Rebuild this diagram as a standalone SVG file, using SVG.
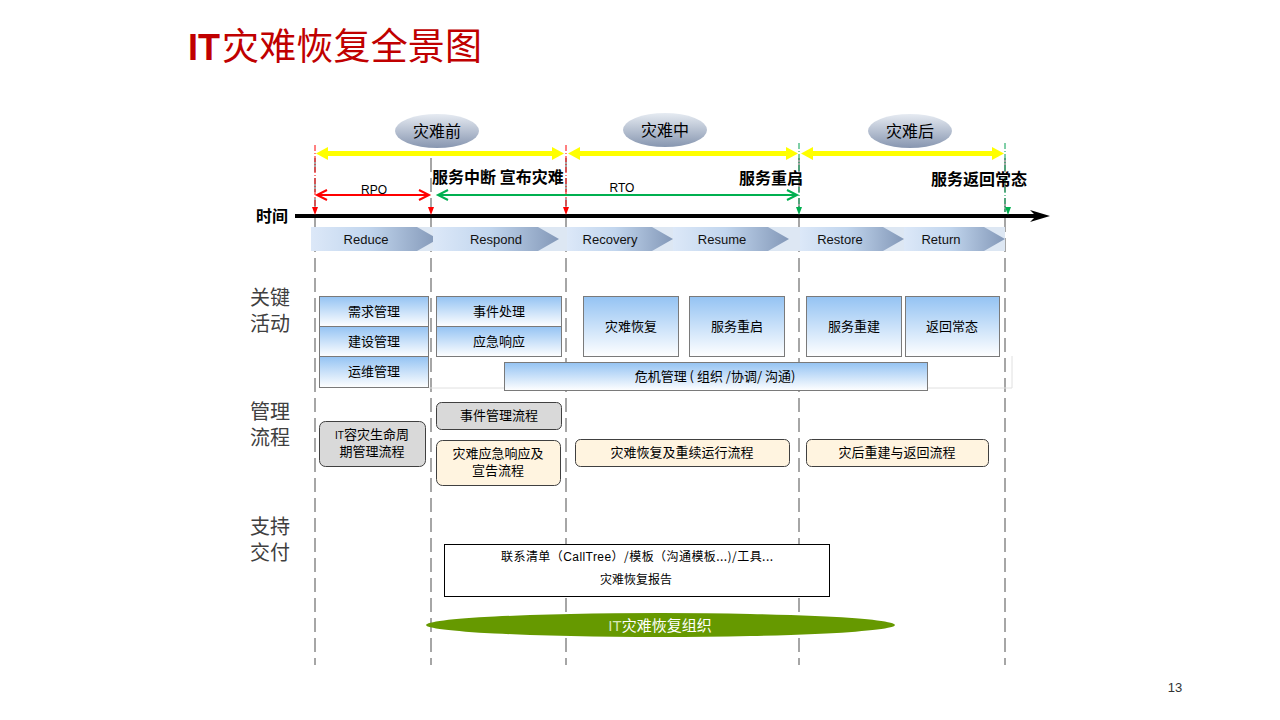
<svg xmlns="http://www.w3.org/2000/svg" width="1280" height="720" viewBox="0 0 1280 720">
<defs>
<linearGradient id="gEll" x1="0" y1="0" x2="0" y2="1"><stop offset="0" stop-color="#e6ebf2"/><stop offset="1" stop-color="#8796b0"/></linearGradient>
<linearGradient id="gBox" x1="0" y1="0" x2="0" y2="1"><stop offset="0" stop-color="#94c3f3"/><stop offset="1" stop-color="#ffffff"/></linearGradient>
<linearGradient id="gChev" x1="0" y1="0" x2="1" y2="0"><stop offset="0" stop-color="#dce8f8"/><stop offset="0.45" stop-color="#c2d6ee"/><stop offset="1" stop-color="#8398b8"/></linearGradient>
<style>
.cn{font-family:"Noto Sans CJK SC","Liberation Sans",sans-serif;}
.lat{font-family:"Liberation Sans","Noto Sans CJK SC",sans-serif;}
.vd{stroke:#a6a6a6;stroke-width:2;stroke-dasharray:14,6;fill:none;}
.box{fill:url(#gBox);stroke:#7a7a7a;stroke-width:1;}
.bt{font-size:13px;fill:#000;text-anchor:middle;}
.grey{fill:#d9d9d9;stroke:#404040;stroke-width:1;}
.cream{fill:#fff4e0;stroke:#404040;stroke-width:1;}
.row{font-size:20px;fill:#404040;}
.chev{fill:url(#gChev);}
.ct{font-size:13px;fill:#111;text-anchor:middle;}
.big{font-size:16px;font-weight:bold;fill:#000;}
</style>
</defs>
<rect width="1280" height="720" fill="#fff"/>

<g id="title">
<text class="lat" x="188" y="60" fill="#c00000" font-size="36" font-weight="bold">IT</text>
<text class="cn" x="222" y="60" fill="#c00000" font-size="37" textLength="260" lengthAdjust="spacing">灾难恢复全景图</text>
</g>

<g id="guides">
<line class="vd" x1="315" y1="158" x2="315" y2="665"/>
<line class="vd" x1="431" y1="158" x2="431" y2="665"/>
<line class="vd" x1="566" y1="158" x2="566" y2="665"/>
<line class="vd" x1="799" y1="158" x2="799" y2="665"/>
<line class="vd" x1="1005" y1="158" x2="1005" y2="665"/>
<line x1="315" y1="145" x2="315" y2="212" stroke="#ff0000" stroke-width="1" stroke-dasharray="6,2,1,2"/>
<line x1="566" y1="145" x2="566" y2="212" stroke="#ff0000" stroke-width="1" stroke-dasharray="6,2,1,2"/>
<line x1="799" y1="143" x2="799" y2="212" stroke="#00a050" stroke-width="1" stroke-dasharray="6,2,1,2"/>
<line x1="1005" y1="143" x2="1005" y2="212" stroke="#00a050" stroke-width="1" stroke-dasharray="6,2,1,2"/>
</g>

<g id="phases">
<g id="phase-before"><ellipse cx="437" cy="131" rx="42" ry="17" fill="url(#gEll)"/><text class="cn" x="437" y="137" font-size="16" text-anchor="middle">灾难前</text></g>
<g id="phase-during"><ellipse cx="665" cy="130" rx="42" ry="17" fill="url(#gEll)"/><text class="cn" x="665" y="136" font-size="16" text-anchor="middle">灾难中</text></g>
<g id="phase-after"><ellipse cx="910" cy="131" rx="42" ry="17" fill="url(#gEll)"/><text class="cn" x="910" y="137" font-size="16" text-anchor="middle">灾难后</text></g>
</g>

<g id="connectors">
<g fill="#ffff00" stroke="none">
<rect x="326" y="151" width="228" height="5"/>
<polygon points="316,153.5 328,147 328,160"/>
<polygon points="564,153.5 552,147 552,160"/>
<rect x="578" y="151" width="209" height="5"/>
<polygon points="568,153.5 580,147 580,160"/>
<polygon points="798,153.5 786,147 786,160"/>
<rect x="812" y="151" width="182" height="5"/>
<polygon points="801,153.5 813,147 813,160"/>
<polygon points="1004,153.5 992,147 992,160"/>
</g>
<line x1="317" y1="195" x2="429" y2="195" stroke="#ff0000" stroke-width="2"/>
<polyline points="327,190 317,195 327,200" fill="none" stroke="#ff0000" stroke-width="2"/>
<polyline points="419,190 429,195 419,200" fill="none" stroke="#ff0000" stroke-width="2"/>
<line x1="438" y1="195" x2="797" y2="195" stroke="#00b050" stroke-width="2"/>
<polyline points="448,190 438,195 448,200" fill="none" stroke="#00b050" stroke-width="2"/>
<polyline points="787,190 797,195 787,200" fill="none" stroke="#00b050" stroke-width="2"/>
<line x1="295" y1="216" x2="1036" y2="216" stroke="#000" stroke-width="4"/>
<polygon points="1050,216 1030,210 1036,216 1030,222" fill="#000"/>
<polygon points="312,207 318,207 315,215" fill="#ff0000"/>
<polygon points="428,207 434,207 431,215" fill="#ff0000"/>
<polygon points="563,207 569,207 566,215" fill="#ff0000"/>
<polygon points="796,207 802,207 799,215" fill="#00b050"/>
<polygon points="1005,207 1011,207 1008,215" fill="#00b050"/>
</g>

<g id="time-labels">
<text class="cn big" x="256" y="222">时间</text>
<text class="lat" x="374" y="194" font-size="12" text-anchor="middle">RPO</text>
<text class="lat" x="622" y="192" font-size="12" text-anchor="middle">RTO</text>
<text class="cn big" x="432" y="183">服务中断 宣布灾难</text>
<text class="cn big" x="803" y="184" text-anchor="end">服务重启</text>
<text class="cn big" x="931" y="185">服务返回常态</text>
</g>

<g id="stages">
<rect x="311" y="227" width="694" height="24" fill="#dde7f3"/>
<g id="st-reduce"><polygon class="chev" points="311,227 417,227 438,239 417,251 311,251"/><text class="lat ct" x="366" y="244">Reduce</text></g>
<g id="st-respond"><polygon class="chev" points="433,227 538,227 559,239 538,251 433,251"/><text class="lat ct" x="496" y="244">Respond</text></g>
<g id="st-recovery"><polygon class="chev" points="567,227 652,227 673,239 652,251 567,251"/><text class="lat ct" x="610" y="244">Recovery</text></g>
<g id="st-resume"><polygon class="chev" points="673,227 768,227 789,239 768,251 673,251"/><text class="lat ct" x="722" y="244">Resume</text></g>
<g id="st-restore"><polygon class="chev" points="800,227 883,227 904,239 883,251 800,251"/><text class="lat ct" x="840" y="244">Restore</text></g>
<g id="st-return"><polygon class="chev" points="904,227 984,227 1005,239 984,251 904,251"/><text class="lat ct" x="941" y="244">Return</text></g>
</g>

<g id="row-labels">
<text class="cn row" x="250" y="305">关键</text>
<text class="cn row" x="250" y="331">活动</text>
<text class="cn row" x="250" y="419">管理</text>
<text class="cn row" x="250" y="445">流程</text>
<text class="cn row" x="250" y="534">支持</text>
<text class="cn row" x="250" y="560">交付</text>
</g>

<g id="activities">
<line x1="429" y1="388" x2="1012" y2="388" stroke="#e0e0e0" stroke-width="1"/>
<line x1="1012" y1="356" x2="1012" y2="388" stroke="#e0e0e0" stroke-width="1"/>
<g id="a1"><rect class="box" x="319.5" y="296.5" width="109" height="30"/><text class="cn bt" x="374" y="316">需求管理</text></g>
<g id="a2"><rect class="box" x="319.5" y="326.5" width="109" height="30"/><text class="cn bt" x="374" y="346">建设管理</text></g>
<g id="a3"><rect class="box" x="319.5" y="356.5" width="109" height="31"/><text class="cn bt" x="374" y="376">运维管理</text></g>
<g id="a4"><rect class="box" x="436.5" y="296.5" width="125" height="30"/><text class="cn bt" x="499" y="316">事件处理</text></g>
<g id="a5"><rect class="box" x="436.5" y="326.5" width="125" height="30"/><text class="cn bt" x="499" y="346">应急响应</text></g>
<g id="a6"><rect class="box" x="583.5" y="296.5" width="95" height="60"/><text class="cn bt" x="631" y="331">灾难恢复</text></g>
<g id="a7"><rect class="box" x="689.5" y="296.5" width="95" height="60"/><text class="cn bt" x="737" y="331">服务重启</text></g>
<g id="a8"><rect class="box" x="806.5" y="296.5" width="95" height="60"/><text class="cn bt" x="854" y="331">服务重建</text></g>
<g id="a9"><rect class="box" x="905.5" y="296.5" width="94" height="60"/><text class="cn bt" x="952" y="331">返回常态</text></g>
<g id="a10"><rect class="box" x="504.5" y="362.5" width="423" height="28"/><text class="cn bt" x="715" y="381">危机管理 ( 组织 /协调/ 沟通)</text></g>
</g>

<g id="processes">
<g id="p1"><rect class="grey" x="436.5" y="402.5" width="125" height="27" rx="5"/><text class="cn bt" x="499" y="420">事件管理流程</text></g>
<g id="p2"><rect class="grey" x="319.5" y="421.5" width="106" height="45" rx="6"/><text class="cn bt" x="372" y="439"><tspan class="lat" font-size="10">IT</tspan>容灾生命周</text><text class="cn bt" x="372" y="456">期管理流程</text></g>
<g id="p3"><rect class="cream" x="436.5" y="440.5" width="124" height="45" rx="6"/><text class="cn bt" x="498" y="458">灾难应急响应及</text><text class="cn bt" x="498" y="475">宣告流程</text></g>
<g id="p4"><rect class="cream" x="575.5" y="439.5" width="214" height="27" rx="5"/><text class="cn bt" x="682" y="457">灾难恢复及重续运行流程</text></g>
<g id="p5"><rect class="cream" x="806.5" y="439.5" width="182" height="27" rx="5"/><text class="cn bt" x="897" y="457">灾后重建与返回流程</text></g>
</g>

<g id="support">
<rect x="444.5" y="544.5" width="385" height="52" fill="#fff" stroke="#000" stroke-width="1"/>
<text class="cn" x="637" y="561" font-size="12" text-anchor="middle" textLength="272" lengthAdjust="spacing">联系清单（<tspan class="lat">CallTree</tspan>）/模板（沟通模板...)/工具...</text>
<text class="cn" x="636" y="584" font-size="12" text-anchor="middle">灾难恢复报告</text>
</g>

<g id="org">
<ellipse cx="660.5" cy="625" rx="234.5" ry="12" fill="#669900"/>
<text class="cn" x="660" y="631" font-size="15" fill="#fff" text-anchor="middle"><tspan class="lat" fill="#d8e8b8">IT</tspan>灾难恢复组织</text>
</g>

<text class="lat" x="1175" y="692" font-size="13" fill="#333" text-anchor="middle">13</text>
</svg>
